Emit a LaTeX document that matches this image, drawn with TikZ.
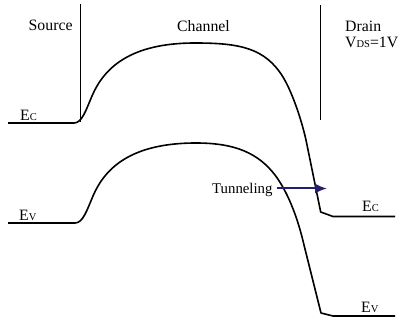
\documentclass[tikz,border=0pt]{standalone}
\usepackage{fontspec}
\setmainfont{Liberation Serif}
\usetikzlibrary{arrows.meta}
\definecolor{arrowblue}{RGB}{35,30,110}
\newcommand{\smallsub}[1]{{\fontsize{10.5}{11}\selectfont #1}}
\begin{document}
\begin{tikzpicture}[x=1pt,y=-1pt,
  lbl/.style={inner sep=0pt,anchor=base west,font=\fontsize{15.8}{18}\selectfont},
  band/.style={line width=1.6pt,line join=round},
  wall/.style={line width=0.8pt},
  tunarrow/.style={line width=2pt,color=arrowblue,-{Latex[length=12pt,width=10pt]}}]
\useasboundingbox (0,0) rectangle (401,320);
% walls
\coordinate (sTop) at (80,4);
\coordinate (sBot) at (80,122);
\coordinate (dTop) at (320.7,5);
\coordinate (dBot) at (320.7,120);
\draw[wall] (sTop) -- (sBot);
\draw[wall] (dTop) -- (dBot);
% labels
\node[lbl] (src) at (28.5,31) {Source};
\node[lbl] (chn) at (177,32) {Channel};
\node[lbl] (drn) at (345,32) {Drain};
\node[lbl] (vds) at (345,47.5) {V\smallsub{DS}=1V};
\node[lbl] (ecs) at (20,120.5) {E\smallsub{C}};
\node[lbl] (evs) at (19,220.5) {E\smallsub{V}};
\node[lbl] (ecd) at (362,211.5) {E\smallsub{C}};
\node[lbl] (evd) at (361,312.5) {E\smallsub{V}};
\node[lbl,font=\fontsize{14.8}{17}\selectfont] (tun) at (212,193.5) {Tunneling};
% conduction band
\draw[band] (8,123) -- (74,123)
  .. controls (82,123) and (86,110) .. (92,96)
  .. controls (104,68) and (130,43) .. (195,43)
  .. controls (240,43) and (265,48) .. (283,77)
  .. controls (292,92) and (301,118) .. (306,140)
  -- (320.7,212) -- (333,216.5) -- (395,216.5);
% valence band
\draw[band] (8,223) -- (75,223)
  .. controls (83,223) and (87,210) .. (93,196)
  .. controls (105,168) and (131,143) .. (196,143)
  .. controls (235,143) and (258,153) .. (275,175)
  .. controls (287,191) and (297,215) .. (304,245)
  -- (321,313) -- (333,316) -- (395,316);
% tunneling arrow
\coordinate (tip) at (327,188.5);
\draw[tunarrow] (tun.east |- tip) ++(4,0) -- (tip);
\end{tikzpicture}
\end{document}
